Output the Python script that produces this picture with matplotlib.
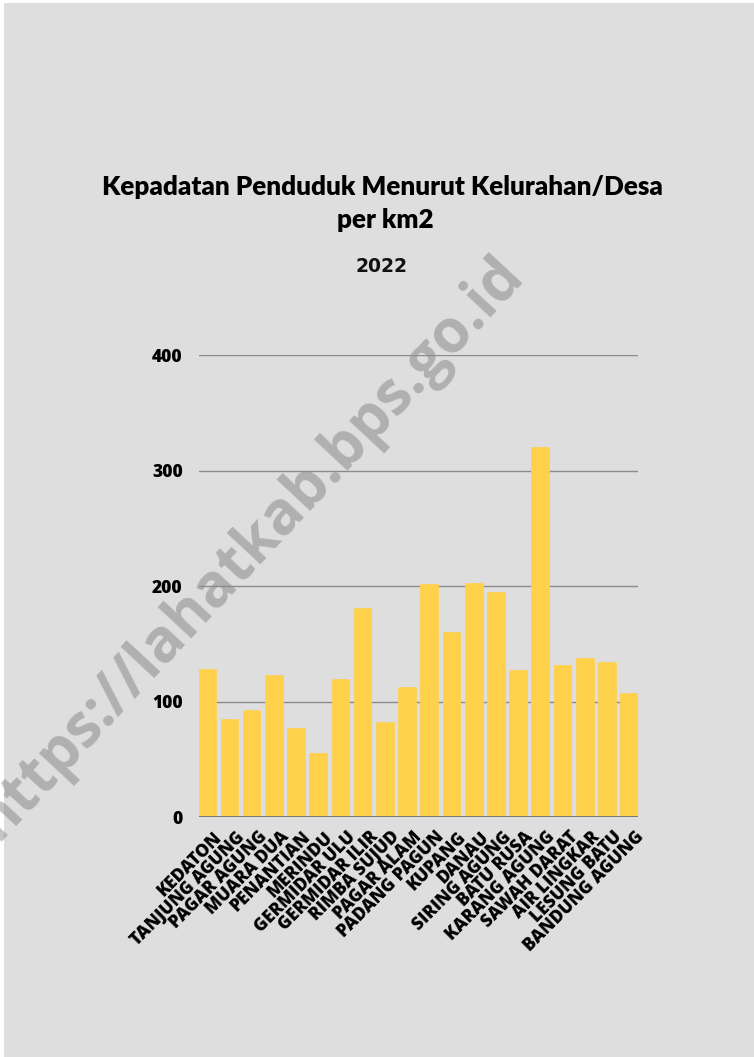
import numpy as np
import matplotlib
matplotlib.use("Agg")
import matplotlib.pyplot as plt
import matplotlib.transforms as mtransforms
from matplotlib.patches import Rectangle

# data
desa = ['KEDATON', 'TANJUNG AGUNG', 'PAGAR AGUNG', 'MUARA DUA', 'PENANTIAN',
        'MERINDU', 'GERMIDAR ULU', 'GERMIDAR ILIR', 'RIMBA SUJUD', 'PAGAR ALAM',
        'PADANG PAGUN', 'KUPANG', 'DANAU', 'SIRING AGUNG', 'BATU RUSA',
        'KARANG AGUNG', 'SAWAH DARAT', 'AIR LINGKAR', 'LESUNG BATU', 'BANDUNG AGUNG']
kepadatan = [127.5, 84.2, 92.0, 122.6, 76.1,
             54.5, 118.8, 180.2, 81.9, 111.6,
             201.0, 159.2, 201.9, 194.4, 126.6,
             319.3, 130.9, 136.7, 133.8, 106.4]
y_ticks = [0, 100, 200, 300, 400]

W, H = 754, 1057
fig = plt.figure(figsize=(W / 100, H / 100), dpi=100, facecolor='white')

# paper background
fig.patches.append(Rectangle((4 / W, 0), 1, 1 - 3 / H, transform=fig.transFigure,
                             facecolor='#dedede', edgecolor='none', zorder=-5))

# watermark
fig.text(250 / W, 1 - 548 / H, 'https://lahatkab.bps.go.id', rotation=47,
         ha='center', va='center', fontsize=43, fontweight='bold',
         family='Open Sans', color='#6a6a6a', alpha=0.4, zorder=-1)

# titles
fig.text(382 / W, 1 - 195 / H, 'Kepadatan Penduduk Menurut Kelurahan/Desa',
         ha='center', va='baseline', fontsize=18.7, fontweight='heavy',
         family='Lato', color='black')
fig.text(385 / W, 1 - 228 / H, 'per km2', ha='center', va='baseline',
         fontsize=18.7, fontweight='heavy', family='Lato', color='black')
fig.text(382 / W, 1 - 272 / H, '2022', ha='center', va='baseline',
         fontsize=13.5, fontweight='heavy', family='DejaVu Sans', color='#111111')

left, right, bottom, top = 199.3, 638, 817.3, 355
ax = fig.add_axes([left / W, 1 - bottom / H, (right - left) / W, (bottom - top) / H])
ax.set_facecolor('none')

x = np.arange(len(desa))
ax.bar(x, kepadatan, width=0.75, color='#FFD04A', edgecolor='#FFD04A',
       linewidth=1.2, joinstyle='round', zorder=3)

ax.set_xlim(-0.375, len(desa) - 0.625)
ax.set_ylim(0, 400)
ax.set_yticks(y_ticks)
ax.yaxis.grid(True, color='#8c8c8c', linewidth=1, zorder=0)
ax.set_axisbelow(True)
ax.axhline(0, color='#6e6e6e', linewidth=1.3, zorder=4)
for s in ax.spines.values():
    s.set_visible(False)

ax.tick_params(axis='both', length=0)
ax.tick_params(axis='y', pad=12)
ax.tick_params(axis='x', pad=8)
for lab in ax.get_yticklabels():
    lab.set_fontsize(12.5)
    lab.set_fontweight('heavy')
    lab.set_family('Open Sans')

ax.set_xticks(x)
ax.set_xticklabels(desa, rotation=45, ha='right', rotation_mode='anchor',
                   fontsize=12.5, fontweight='heavy', family='Open Sans')
offset = mtransforms.ScaledTranslation(6 / 100, 0, fig.dpi_scale_trans)
for lab in ax.get_xticklabels():
    lab.set_transform(lab.get_transform() + offset)

fig.savefig('out.png', dpi=100, facecolor=fig.get_facecolor())
